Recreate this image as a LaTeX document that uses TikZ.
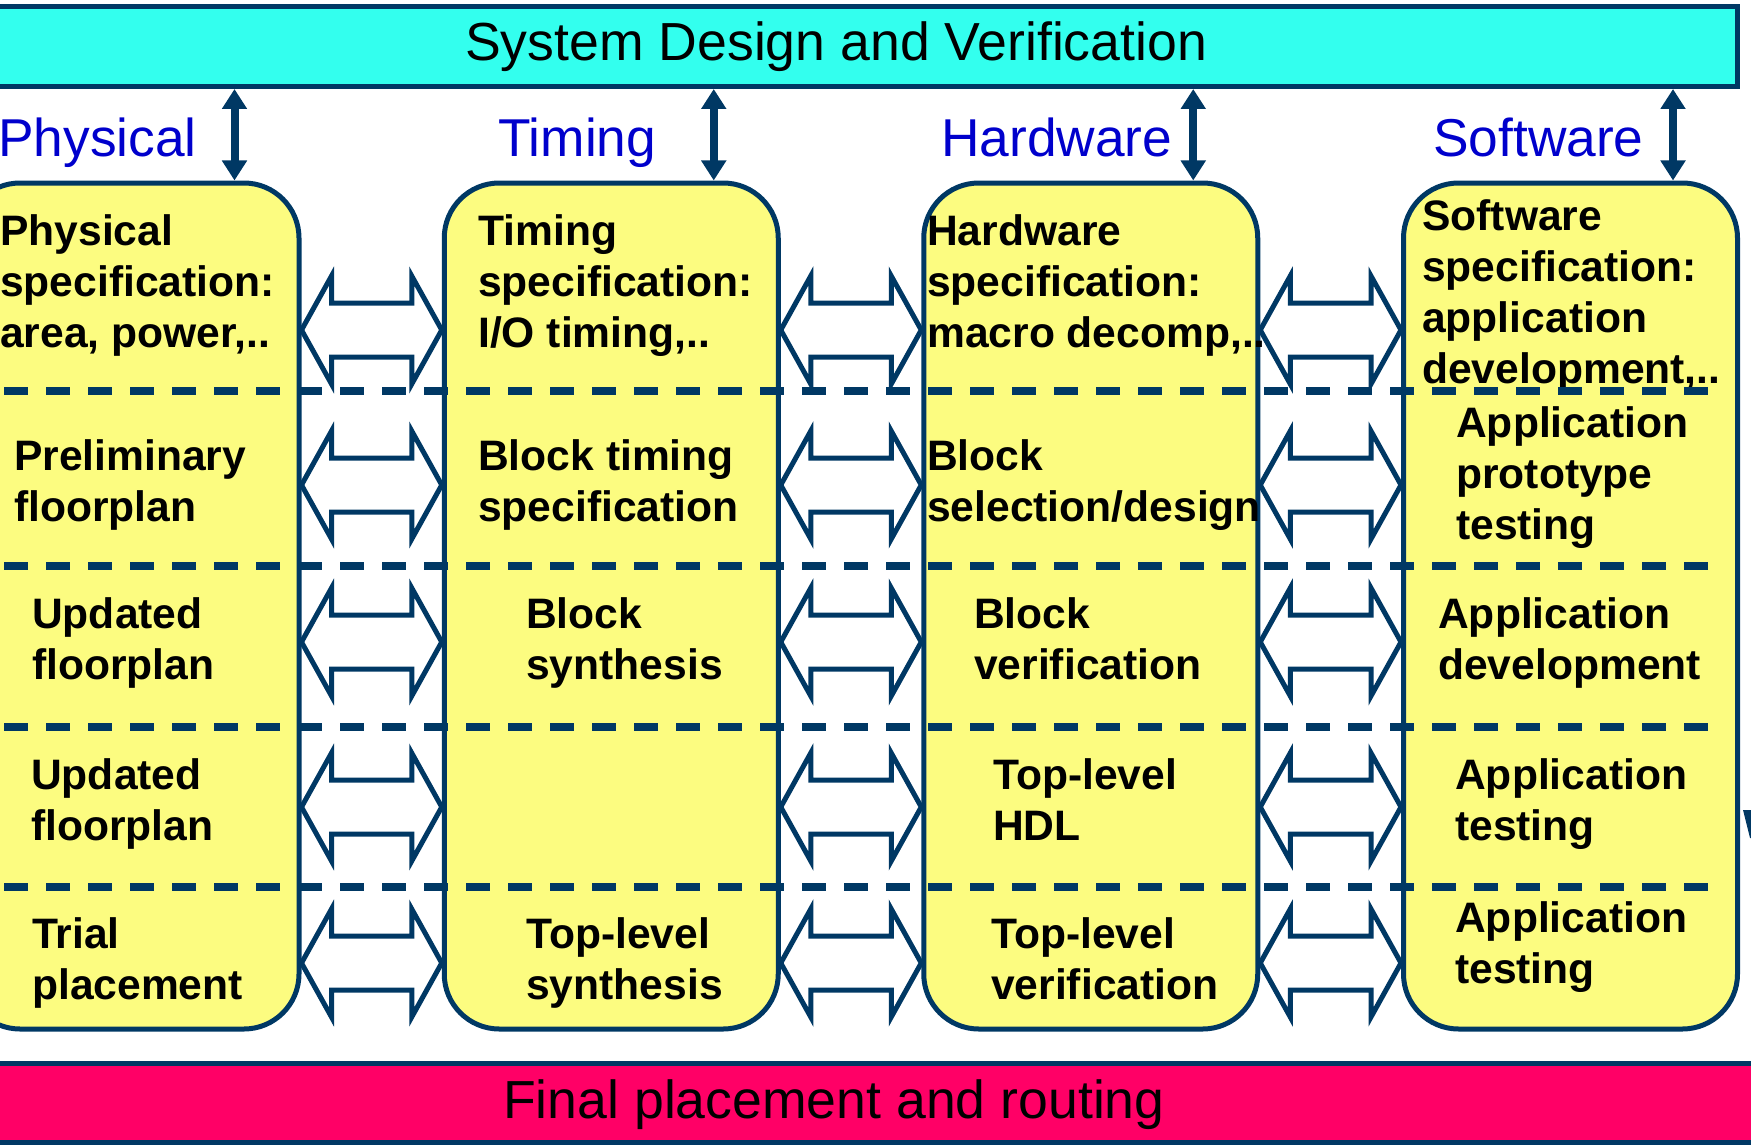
\documentclass[tikz,border=0pt]{standalone}
\usepackage{fontspec}
\setmainfont{Liberation Sans}
\usetikzlibrary{arrows.meta,calc}

\definecolor{navy}{HTML}{003864}
\definecolor{barcyan}{HTML}{33FFEE}
\definecolor{barpink}{HTML}{FF0066}
\definecolor{boxyellow}{HTML}{FCFC80}
\definecolor{laneblue}{HTML}{0000CC}

% several lines, aligned on the baseline of the first one
\newcommand{\cellstack}[1]{\begin{tabular}[t]{@{}l@{}}#1\end{tabular}}

\begin{document}
\begin{tikzpicture}[x=1pt,y=1pt,
  box/.style={draw=navy, line width=5pt, fill=boxyellow, rounded corners=55pt,
              minimum width=334pt, minimum height=846pt, inner sep=0pt},
  bar/.style={draw=navy, line width=5pt, inner sep=0pt},
  bartext/.style={font=\fontsize{53.6}{60}\selectfont, anchor=base west, inner sep=0pt},
  lane/.style={text=laneblue, font=\fontsize{53.3}{60}\selectfont, anchor=base west, inner sep=0pt},
  cell/.style={font=\fontsize{42.6}{51}\selectfont\bfseries, anchor=base west, inner sep=0pt},
  vlink/.style={draw=navy, line width=8pt,
                {Triangle[width=24pt,length=20pt]}-{Triangle[width=24pt,length=20pt]}},
  hollow/.style={draw=navy, line width=5pt, line join=miter},
  sep/.style={draw=navy, line width=8pt, dash pattern=on 24pt off 18pt},
]
\useasboundingbox (0,0) rectangle (1751,-1145);
\clip (0,0) rectangle (1751,-1145);

% top and bottom bars
\node[bar, fill=barcyan, minimum width=1760pt, minimum height=79.5pt] (topbar) at (857,-46.75) {};
\node[bar, fill=barpink, minimum width=1840pt, minimum height=79pt] (basebar) at (900,-1103) {};
\node[bartext] (toptext) at (465,-61) {System Design and Verification};
\node[bartext] (basetext) at (503,-1118) {Final placement and routing};

% the four design lanes
\node[box] (physbox) at (132,-606) {};
\node[box] (timbox) at (611.25,-606) {};
\node[box] (hwbox) at (1090.75,-606) {};
\node[box] (swbox) at (1570.5,-606) {};

\node[lane] (lphys) at (-2,-157) {Physical};
\node[lane] (ltim) at (498,-157) {Timing};
\node[lane] (lhw) at (941,-157) {Hardware};
\node[lane] (lsw) at (1433,-157) {Software};

% links between each lane and system design
\foreach \b in {physbox,timbox,hwbox,swbox}
  \draw[vlink] ([xshift=-67pt]\b.north east) -- ([xshift=-67pt]\b.north east |- topbar.south);

% hollow double arrows between neighbouring lanes
\foreach \l/\r in {physbox/timbox, timbox/hwbox, hwbox/swbox}
  \foreach \c in {330,485,642,807,963}
    \draw[hollow] let \p1=(\l.east), \p2=(\r.west), \p3=(0,-\c) in
      (\x1,\y3) -- ({\x1+30pt},{\y3+54pt}) -- ({\x1+30pt},{\y3+27pt})
      -- ({\x2-30pt},{\y3+27pt}) -- ({\x2-30pt},{\y3+54pt}) -- (\x2,\y3)
      -- ({\x2-30pt},{\y3-54pt}) -- ({\x2-30pt},{\y3-27pt})
      -- ({\x1+30pt},{\y3-27pt}) -- ({\x1+30pt},{\y3-54pt}) -- cycle;

% lane contents
\node[cell] (p1) at (0,-245) {\cellstack{Physical\\specification:\\area, power,..}};
\node[cell] (t1) at (478,-245) {\cellstack{Timing\\specification:\\I/O timing,..}};
\node[cell] (h1) at (927,-245) {\cellstack{Hardware\\specification:\\macro decomp,..}};
\node[cell] (s1) at (1422,-230) {\cellstack{Software\\specification:\\application\\development,..}};

\node[cell] (p2) at (14,-470) {\cellstack{Preliminary\\floorplan}};
\node[cell] (t2) at (478,-470) {\cellstack{Block timing\\specification}};
\node[cell] (h2) at (927,-470) {\cellstack{Block\\selection/design}};
\node[cell] (s2) at (1456,-437) {\cellstack{Application\\prototype\\testing}};

\node[cell] (p3) at (32,-628) {\cellstack{Updated\\floorplan}};
\node[cell] (t3) at (526,-628) {\cellstack{Block\\synthesis}};
\node[cell] (h3) at (974,-628) {\cellstack{Block\\verification}};
\node[cell] (s3) at (1438,-628) {\cellstack{Application\\development}};

\node[cell] (p4) at (31,-789) {\cellstack{Updated\\floorplan}};
\node[cell] (h4) at (993,-789) {\cellstack{Top-level\\HDL}};
\node[cell] (s4) at (1455,-789) {\cellstack{Application\\testing}};

\node[cell] (p5) at (32,-948) {\cellstack{Trial\\placement}};
\node[cell] (t5) at (526,-948) {\cellstack{Top-level\\synthesis}};
\node[cell] (h5) at (991,-948) {\cellstack{Top-level\\verification}};
\node[cell] (s5) at (1455,-932) {\cellstack{Application\\testing}};

% stage separators
\foreach \y in {391,566,727,887}
  \draw[sep] (4,-\y) -- (1710,-\y);

% cut-off mark at the right edge
\fill[navy] (1743,-810) -- (1751,-810) -- (1751,-838) -- (1750,-838) -- cycle;
\end{tikzpicture}
\end{document}
